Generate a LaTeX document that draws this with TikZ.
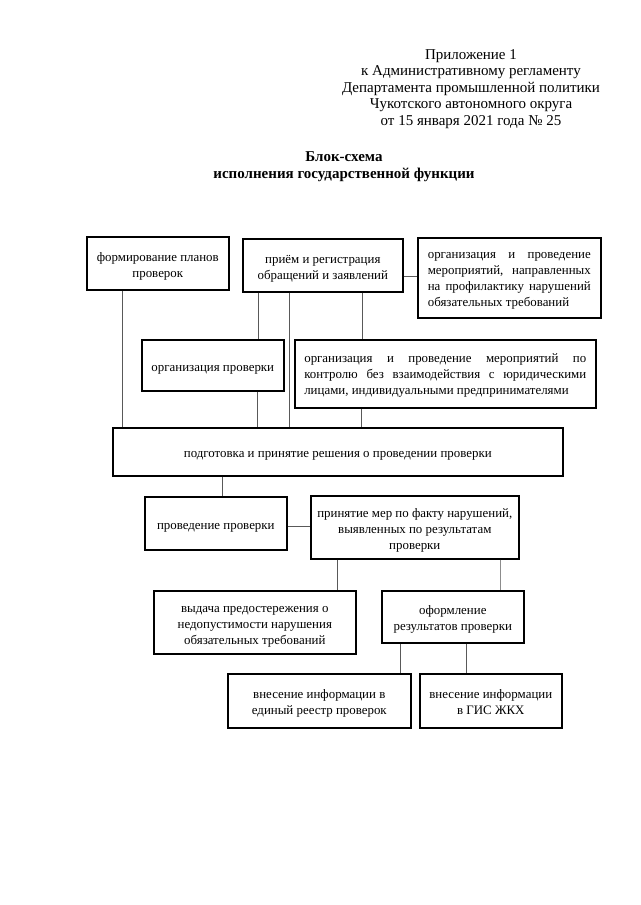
\documentclass[tikz,border=0pt]{standalone}
\usepackage{fontspec}
\setmainfont{Liberation Serif}
\newcommand\bxt[1]{\raisebox{0pt}[\dimexpr\height+5pt\relax][\depth]{\begin{tabular}{@{}c@{}}#1\end{tabular}}}
\newcommand\bxj[2]{\raisebox{0pt}[\dimexpr\height+3pt\relax][\depth]{\parbox{#1}{\strut#2\strut}}}
\begin{document}
\begin{tikzpicture}[x=1pt,y=-1pt,
  box/.style={draw=black, line width=1.6pt, rectangle, anchor=north west, inner sep=0pt,
    font=\fontsize{12.9}{16}\selectfont},
  conn/.style={draw=black!65, line width=0.9pt}]
\useasboundingbox[fill=white] (0,0) rectangle (640,905);

\node[anchor=north, align=center, font=\fontsize{15}{16.5}\selectfont] (hdr) at (471,46)
  {Приложение 1\\к Административному регламенту\\Департамента промышленной политики\\Чукотского автономного округа\\от 15 января 2021 года № 25};
\node[anchor=north, align=center, font=\fontsize{15}{17}\selectfont\bfseries] (ttl) at (344,148)
  {Блок-схема\\исполнения государственной функции};

\node[box, minimum width=142, minimum height=53] (b1) at (86,236) {\bxt{формирование планов\\проверок}};
\node[box, minimum width=160, minimum height=53] (b2) at (242,238) {\bxt{приём и регистрация\\обращений и заявлений}};
\node[box, minimum width=183, minimum height=80] (b3) at (417,237)
  {\bxj{163pt}{организация и проведение\linebreak мероприятий, направленных\linebreak на профилактику нарушений\linebreak обязательных требований}};
\node[box, minimum width=142, minimum height=51] (oc) at (141,339) {\bxt{организация проверки}};
\node[box, minimum width=301, minimum height=68] (b5) at (294,339)
  {\bxj{282pt}{организация и проведение мероприятий по\linebreak контролю без взаимодействия с юридическими\linebreak лицами, индивидуальными предпринимателями}};
\node[box, minimum width=450, minimum height=48] (main) at (112,427) {\bxt{подготовка и принятие решения о проведении проверки}};
\node[box, minimum width=142, minimum height=53] (pr) at (144,496) {\bxt{проведение проверки}};
\node[box, minimum width=208, minimum height=63] (pm) at (310,495) {\bxt{принятие мер по факту нарушений,\\выявленных по результатам\\проверки}};
\node[box, minimum width=202, minimum height=63] (vd) at (153,590) {\bxt{выдача предостережения о\\недопустимости нарушения\\обязательных требований}};
\node[box, minimum width=142, minimum height=52] (of) at (381,590) {\bxt{оформление\\результатов проверки}};
\node[box, minimum width=183, minimum height=54] (re) at (227,673) {\bxt{внесение информации в\\единый реестр проверок}};
\node[box, minimum width=142, minimum height=54] (gi) at (419,673) {\bxt{внесение информации\\в ГИС ЖКХ}};

\draw[conn] (122,0 |- b1.south) -- (122,0 |- main.north);
\draw[conn] (258,0 |- b2.south) -- (258,0 |- oc.north);
\draw[conn] (289,0 |- b2.south) -- (289,0 |- main.north);
\draw[conn] (362,0 |- b2.south) -- (362,0 |- b5.north);
\draw[conn] (b2.east |- 0,276) -- (b3.west |- 0,276);
\draw[conn] (257,0 |- oc.south) -- (257,0 |- main.north);
\draw[conn] (361,0 |- b5.south) -- (361,0 |- main.north);
\draw[conn] (222,0 |- main.south) -- (222,0 |- pr.north);
\draw[conn] (pr.east |- 0,526) -- (pm.west |- 0,526);
\draw[conn] (337,0 |- pm.south) -- (337,0 |- vd.north);
\draw[conn, draw=black!45] (500,0 |- pm.south) -- (500,0 |- of.north);
\draw[conn] (400,0 |- of.south) -- (400,0 |- re.north);
\draw[conn] (466,0 |- of.south) -- (466,0 |- gi.north);
\end{tikzpicture}
\end{document}
